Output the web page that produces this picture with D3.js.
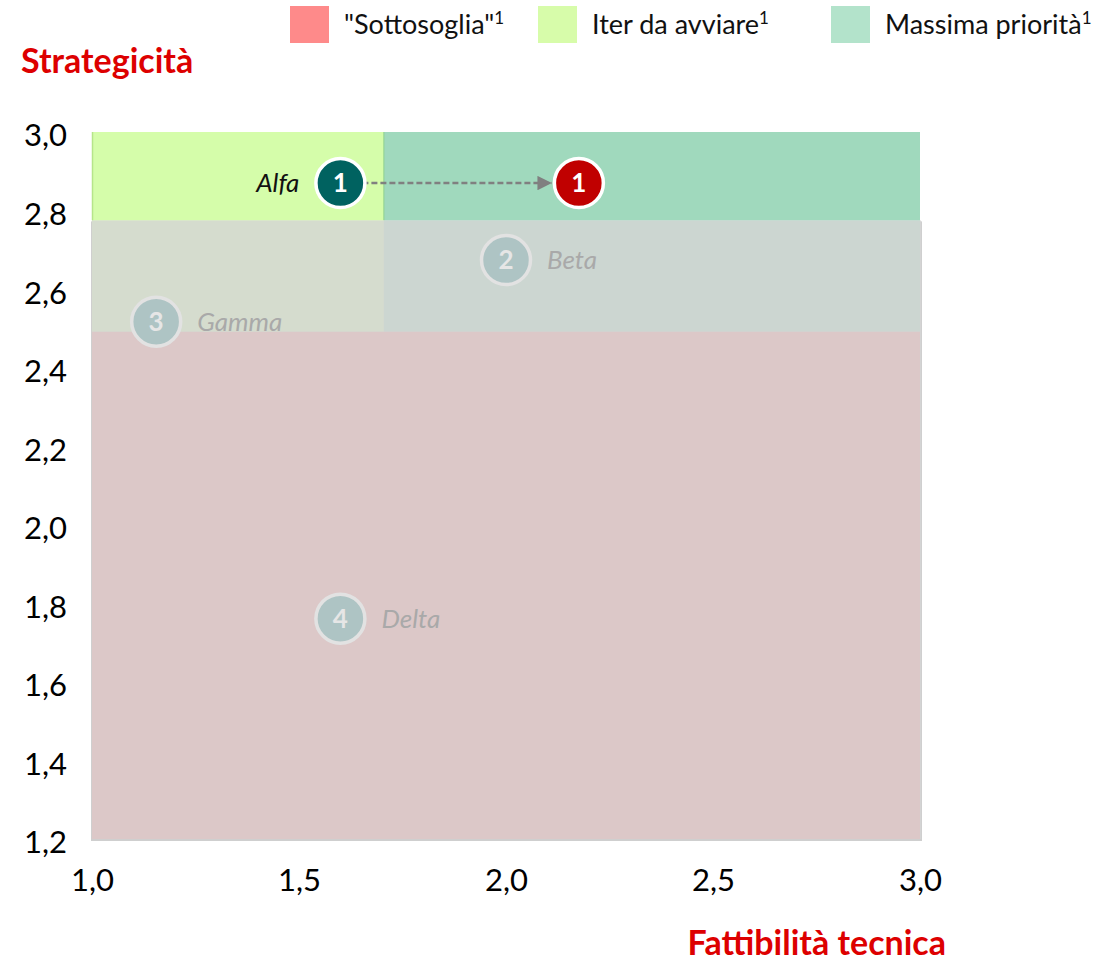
<!DOCTYPE html>
<html>
<head>
<meta charset="utf-8">
<script src="https://cdn.jsdelivr.net/npm/d3@7"></script>
<style>
  html, body { margin: 0; padding: 0; background: #fff; }
  svg { display: block; font-family: Lato, "Open Sans", sans-serif; }
</style>
</head>
<body>
<svg id="chart" width="1101" height="963"></svg>
<script>
// ---- data ----
const xTicks = [1.0, 1.5, 2.0, 2.5, 3.0];
const xTickLabels = ["1,0", "1,5", "2,0", "2,5", "3,0"];
const yTicks = [1.2, 1.4, 1.6, 1.8, 2.0, 2.2, 2.4, 2.6, 2.8, 3.0];
const yTickLabels = ["1,2", "1,4", "1,6", "1,8", "2,0", "2,2", "2,4", "2,6", "2,8", "3,0"];

const legendNames = ["\"Sottosoglia\"", "Iter da avviare", "Massima priorità"];
const legendColors = ["#fe8a8a", "#d7fcaa", "#b3e3cb"];

// zones: [x0, x1, y0, y1]
const zoneNames = ["Sottosoglia", "Iter da avviare (basso)", "Massima priorità (basso)", "Iter da avviare", "Massima priorità"];
const zoneX0 = [1.0, 1.0, 1.705, 1.0, 1.705];
const zoneX1 = [3.0, 1.705, 3.0, 1.705, 3.0];
const zoneY0 = [1.2, 2.492, 2.492, 2.775, 2.775];
const zoneY1 = [2.492, 2.775, 2.775, 3.0, 3.0];
const zoneColors = ["#fe8a8a", "#d5fdaa", "#a0d9bd", "#d5fdaa", "#a0d9bd"];
const fadeTop = 2.775;

const pointIds = [1, 2, 3, 4];
const pointNames = ["Alfa", "Beta", "Gamma", "Delta"];
const pointX = [1.6, 2.0, 1.155, 1.6];
const pointY = [2.87, 2.674, 2.517, 1.761];
const pointActive = [true, false, false, false];

const targetX = [2.176];
const targetY = [2.87];

// ---- layout ----
const svg = d3.select("#chart");
const x = d3.scaleLinear().domain([1.0, 3.0]).range([92, 920]);
const y = d3.scaleLinear().domain([1.2, 3.0]).range([839, 132]);

// defs
const defs = svg.append("defs");
defs.append("marker")
  .attr("id", "arrow")
  .attr("viewBox", "0 0 10 10")
  .attr("refX", 10).attr("refY", 5)
  .attr("markerWidth", 6).attr("markerHeight", 6)
  .attr("markerUnits", "strokeWidth")
  .attr("orient", "auto")
  .append("path").attr("d", "M0,0 L10,5 L0,10 Z").attr("fill", "#808080");

// shadow behind the faded area
svg.append("rect")
  .attr("x", x(1.0) - 1).attr("y", y(fadeTop) + 1)
  .attr("width", x(3.0) - x(1.0) + 3)
  .attr("height", y(1.2) - y(fadeTop) + 1)
  .attr("fill", "#cfcfcf");

// zones
const zones = zoneNames.map((n, i) => ({ n, x0: zoneX0[i], x1: zoneX1[i], y0: zoneY0[i], y1: zoneY1[i], c: zoneColors[i] }));
svg.append("g").selectAll("rect").data(zones).join("rect")
  .attr("x", d => x(d.x0))
  .attr("y", d => y(d.y1))
  .attr("width", d => x(d.x1) - x(d.x0))
  .attr("height", d => y(d.y0) - y(d.y1))
  .attr("fill", d => d.c);

// green edge lines of top band
svg.append("line")
  .attr("x1", x(1.0) + 0.5).attr("x2", x(1.0) + 0.5)
  .attr("y1", y(3.0)).attr("y2", y(fadeTop))
  .attr("stroke", "#b6e58a").attr("stroke-width", 1.5);
svg.append("line")
  .attr("x1", x(1.705)).attr("x2", x(1.705))
  .attr("y1", y(3.0)).attr("y2", y(fadeTop))
  .attr("stroke", "#8fd08a").attr("stroke-width", 1);

// fade overlay
svg.append("rect")
  .attr("x", x(1.0)).attr("y", y(fadeTop))
  .attr("width", x(3.0) - x(1.0) + 1)
  .attr("height", y(1.2) - y(fadeTop))
  .attr("fill", "#d5d5d5").attr("fill-opacity", 0.83);

// arrow
svg.append("line")
  .attr("x1", x(pointX[0]) + 22).attr("y1", y(pointY[0]))
  .attr("x2", x(targetX[0]) - 27).attr("y2", y(targetY[0]))
  .attr("stroke", "#808080").attr("stroke-width", 2.4)
  .attr("stroke-dasharray", "6,3")
  .attr("marker-end", "url(#arrow)");

// points
const pts = pointIds.map((id, i) => ({ id, name: pointNames[i], x: pointX[i], y: pointY[i], active: pointActive[i] }));
const pg = svg.append("g").selectAll("g").data(pts).join("g")
  .attr("transform", d => `translate(${x(d.x)},${y(d.y)})`);
pg.append("circle").attr("r", 24.5)
  .attr("fill", d => d.active ? "#006260" : "#aec4c4")
  .attr("stroke", d => d.active ? "#ffffff" : "#e2e2e2")
  .attr("stroke-width", 3.5);
pg.append("text").text(d => d.id)
  .attr("text-anchor", "middle").attr("dy", "0.36em")
  .attr("font-size", 26).attr("font-weight", "bold")
  .attr("fill", d => d.active ? "#ffffff" : "#e6e6e6");
pg.append("text").text(d => d.name)
  .attr("x", d => d.active ? -41 : 41)
  .attr("text-anchor", d => d.active ? "end" : "start")
  .attr("dy", "0.35em")
  .attr("font-size", 26).attr("font-style", "italic")
  .attr("fill", d => d.active ? "#111111" : "#a9a9a9");

// target point
const tg = svg.append("g").selectAll("g").data(targetX.map((v, i) => ({ x: v, y: targetY[i], id: pointIds[i] }))).join("g")
  .attr("transform", d => `translate(${x(d.x)},${y(d.y)})`);
tg.append("circle").attr("r", 24.5).attr("fill", "#c00000").attr("stroke", "#fff").attr("stroke-width", 3.5);
tg.append("text").text(d => d.id).attr("text-anchor", "middle").attr("dy", "0.36em")
  .attr("font-size", 26).attr("font-weight", "bold").attr("fill", "#fff");

// axes
const yAxis = svg.append("g").attr("transform", `translate(${x(1.0)},0)`)
  .call(d3.axisLeft(y).tickValues(yTicks).tickSize(0).tickPadding(25)
    .tickFormat((d, i) => yTickLabels[i]));
yAxis.select(".domain").remove();
yAxis.selectAll("text").attr("font-size", 31).attr("fill", "#000")
  .attr("font-family", "Lato, sans-serif").attr("dy", "0.45em");

const xAxis = svg.append("g").attr("transform", `translate(0,${y(1.2)})`)
  .call(d3.axisBottom(x).tickValues(xTicks).tickSize(0).tickPadding(30)
    .tickFormat((d, i) => xTickLabels[i]));
xAxis.select(".domain").remove();
xAxis.selectAll("text").attr("font-size", 31).attr("fill", "#000")
  .attr("font-family", "Lato, sans-serif");

// axis titles
svg.append("text").text("Strategicità")
  .attr("x", 21).attr("y", 73)
  .attr("font-size", 34).attr("font-weight", "bold").attr("fill", "#dd0000");
svg.append("text").text("Fattibilità tecnica")
  .attr("x", 946).attr("y", 955).attr("text-anchor", "end")
  .attr("font-size", 34).attr("font-weight", "bold").attr("fill", "#dd0000");

// legend
const legendX = [290, 538, 831];
const lg = svg.append("g").selectAll("g").data(legendNames).join("g")
  .attr("transform", (d, i) => `translate(${legendX[i]},6)`);
lg.append("rect").attr("width", 39).attr("height", 37).attr("fill", (d, i) => legendColors[i]);
const lt = lg.append("text").attr("x", 54).attr("y", 28)
  .attr("font-size", 27).attr("fill", "#111");
lt.append("tspan").text(d => d);
lt.append("tspan").text("1").attr("font-size", 17).attr("dy", -10);
</script>
</body>
</html>
